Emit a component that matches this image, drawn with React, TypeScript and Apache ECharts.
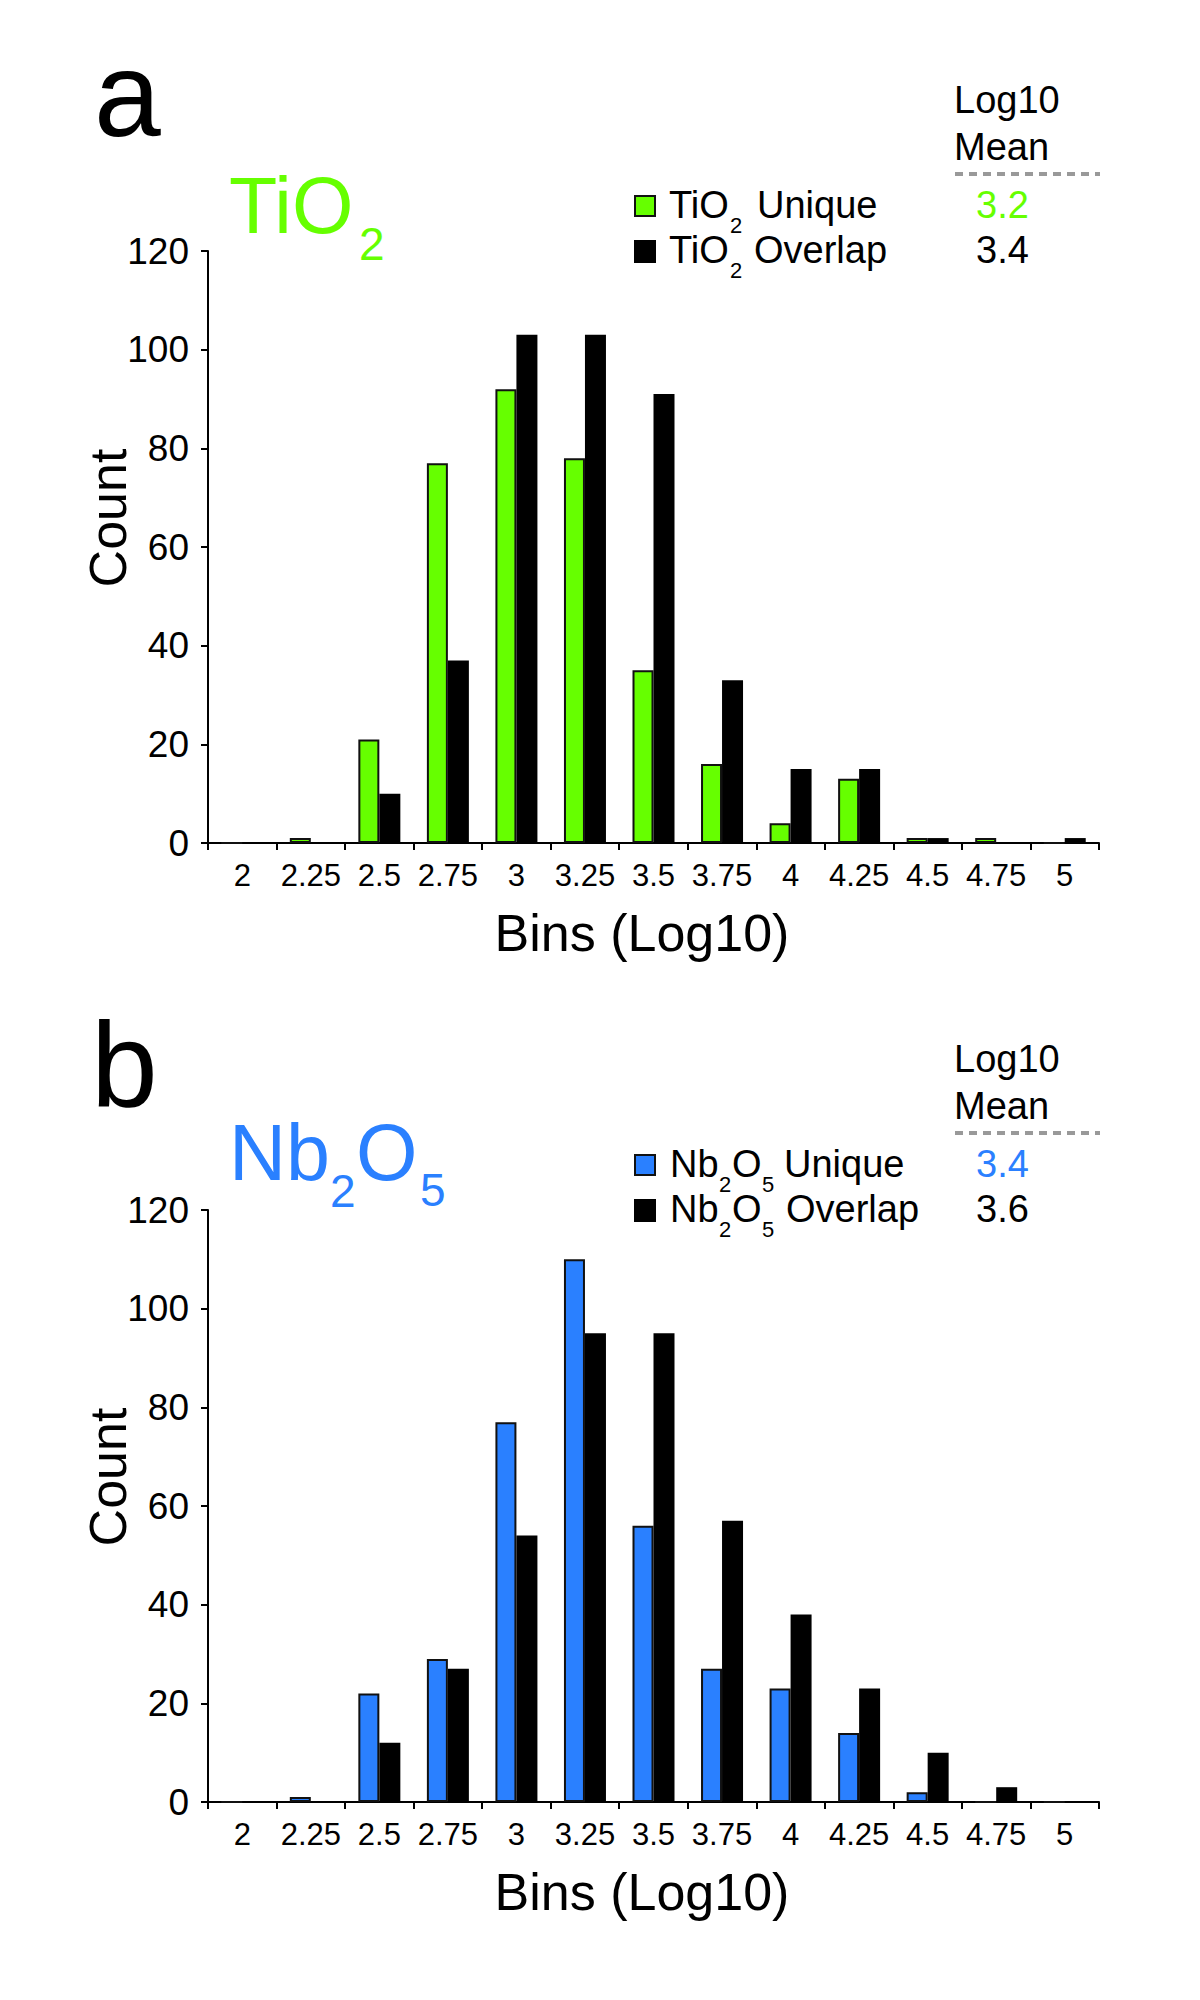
import React, { useEffect, useRef } from "react";
import * as echarts from "echarts";

const bins = ["2", "2.25", "2.5", "2.75", "3", "3.25", "3.5", "3.75", "4", "4.25", "4.5", "4.75", "5"];
const tiUnique = [0, 1, 21, 77, 92, 78, 35, 16, 4, 13, 1, 1, 0];
const tiOverlap = [0, 0, 10, 37, 103, 103, 91, 33, 15, 15, 1, 0, 1];
const nbUnique = [0, 1, 22, 29, 77, 110, 56, 27, 23, 14, 2, 0, 0];
const nbOverlap = [0, 0, 12, 27, 54, 95, 95, 57, 38, 23, 10, 3, 0];
const tiMeans = ["3.2", "3.4"];
const nbMeans = ["3.4", "3.6"];
const yMin = 0;
const yMax = 120;
const yStep = 20;

const GREEN = "#66ff00";
const BLUE = "#2a80ff";
const FONT = "'Liberation Sans', Arial, Helvetica, sans-serif";

function txt(text: string, x: number, baseline: number, size: number, fill: string, align = "left", extra: any = {}) {
  return {
    type: "text",
    x,
    y: baseline - 0.3465 * size,
    silent: true,
    ...extra,
    style: {
      text,
      x: 0,
      y: 0,
      fill,
      fontSize: size,
      fontFamily: FONT,
      align,
      verticalAlign: "middle",
      textAlign: align,
      textVerticalAlign: "middle",
    },
  };
}

function panelGraphics(dy: number, dyTitle: number, letter: string, letterX: number, letterBase: number, kind: "ti" | "nb", means: string[]) {
  const color = kind === "ti" ? GREEN : BLUE;
  const els: any[] = [];
  els.push(txt(letter, letterX, letterBase, 120, "#000"));
  // big title
  if (kind === "ti") {
    els.push(txt("TiO", 229, 233 + dyTitle, 79, color));
    els.push(txt("2", 359, 260 + dyTitle, 46, color));
  } else {
    els.push(txt("Nb", 229, 233 + dyTitle, 79, color));
    els.push(txt("2", 330, 260 + dyTitle, 46, color));
    els.push(txt("O", 356, 233 + dyTitle, 79, color));
    els.push(txt("5", 420, 259 + dyTitle, 46, color));
  }
  // legend header
  els.push(txt("Log10", 954, 113 + dy, 38, "#000"));
  els.push(txt("Mean", 954, 160 + dy, 38, "#000"));
  els.push({
    type: "line",
    silent: true,
    shape: { x1: 955, y1: 174 + dy, x2: 1100, y2: 174 + dy },
    style: { stroke: "#999999", lineWidth: 4, lineDash: [8, 6] },
  });
  // legend squares
  els.push({
    type: "rect",
    silent: true,
    shape: { x: 635, y: 196 + dy, width: 20, height: 20 },
    style: { fill: color, stroke: "#111", lineWidth: 2 },
  });
  els.push({
    type: "rect",
    silent: true,
    shape: { x: 634, y: 240 + dy, width: 22, height: 23 },
    style: { fill: "#000" },
  });
  const rows = [
    { base: 218 + dy, word: "Unique" },
    { base: 263 + dy, word: "Overlap" },
  ];
  rows.forEach((r) => {
    if (kind === "ti") {
      els.push(txt("TiO", 669, r.base, 38, "#000"));
      els.push(txt("2", 730, r.base + 15, 22, "#000"));
      els.push(txt(r.word, r.word === "Unique" ? 757 : 754, r.base, 38, "#000"));
    } else {
      els.push(txt("Nb", 670, r.base, 38, "#000"));
      els.push(txt("2", 719, r.base + 15, 22, "#000"));
      els.push(txt("O", 732, r.base, 38, "#000"));
      els.push(txt("5", 762, r.base + 15, 22, "#000"));
      els.push(txt(r.word, r.word === "Unique" ? 784 : 786, r.base, 38, "#000"));
    }
  });
  els.push(txt(means[0], 976, 218 + dy, 38, color));
  els.push(txt(means[1], 976, 263 + dy, 38, "#000"));
  // axis titles
  const count = txt("Count", 0, 0, 52, "#000", "center", { x: 108, y: 518 + dy, rotation: Math.PI / 2 });
  els.push(count);
  els.push(txt("Bins (Log10)", 642, 951 + dy, 52, "#000", "center"));
  return els;
}

function axisPair(gridIndex: number) {
  const axisLine = { show: true, lineStyle: { color: "#000", width: 2 } };
  return {
    x: {
      type: "category",
      gridIndex,
      data: bins,
      boundaryGap: true,
      axisLine,
      axisTick: { show: true, length: 7, lineStyle: { color: "#000", width: 2 } },
      axisLabel: { color: "#000", fontSize: 31, fontFamily: FONT, margin: 17, interval: 0 },
      splitLine: { show: false },
    },
    y: {
      type: "value",
      gridIndex,
      min: yMin,
      max: yMax,
      interval: yStep,
      axisLine,
      axisTick: { show: true, length: 7, lineStyle: { color: "#000", width: 2 } },
      axisLabel: { color: "#000", fontSize: 37, fontFamily: FONT, margin: 19 },
      splitLine: { show: false },
    },
  };
}

export default function App() {
  const ref = useRef<HTMLDivElement>(null);
  useEffect(() => {
    document.body.style.margin = "0";
    if (!ref.current) return;
    const chart = echarts.init(ref.current, null, { renderer: "svg" });
    const a = axisPair(0);
    const b = axisPair(1);
    const barCommon = { barWidth: 21, barGap: "0%" };
    chart.setOption({
      animation: false,
      backgroundColor: "#fff",
      grid: [
        { left: 208, top: 251, width: 891, height: 592 },
        { left: 208, top: 1210, width: 891, height: 592 },
      ],
      xAxis: [a.x, b.x],
      yAxis: [a.y, b.y],
      series: [
        {
          type: "bar",
          name: "TiO2 Unique",
          xAxisIndex: 0,
          yAxisIndex: 0,
          data: tiUnique,
          itemStyle: { color: GREEN, borderColor: "#111", borderWidth: 2 },
          ...barCommon,
        },
        {
          type: "bar",
          name: "TiO2 Overlap",
          xAxisIndex: 0,
          yAxisIndex: 0,
          data: tiOverlap,
          itemStyle: { color: "#000" },
          ...barCommon,
        },
        {
          type: "bar",
          name: "Nb2O5 Unique",
          xAxisIndex: 1,
          yAxisIndex: 1,
          data: nbUnique,
          itemStyle: { color: BLUE, borderColor: "#111", borderWidth: 2 },
          ...barCommon,
        },
        {
          type: "bar",
          name: "Nb2O5 Overlap",
          xAxisIndex: 1,
          yAxisIndex: 1,
          data: nbOverlap,
          itemStyle: { color: "#000" },
          ...barCommon,
        },
      ],
      graphic: {
        elements: [
          ...panelGraphics(0, 0, "a", 94, 136, "ti", tiMeans),
          ...panelGraphics(959, 947, "b", 91, 1106, "nb", nbMeans),
        ],
      },
    });
    return () => chart.dispose();
  }, []);
  return <div ref={ref} style={{ width: 1200, height: 2000 }} />;
}
